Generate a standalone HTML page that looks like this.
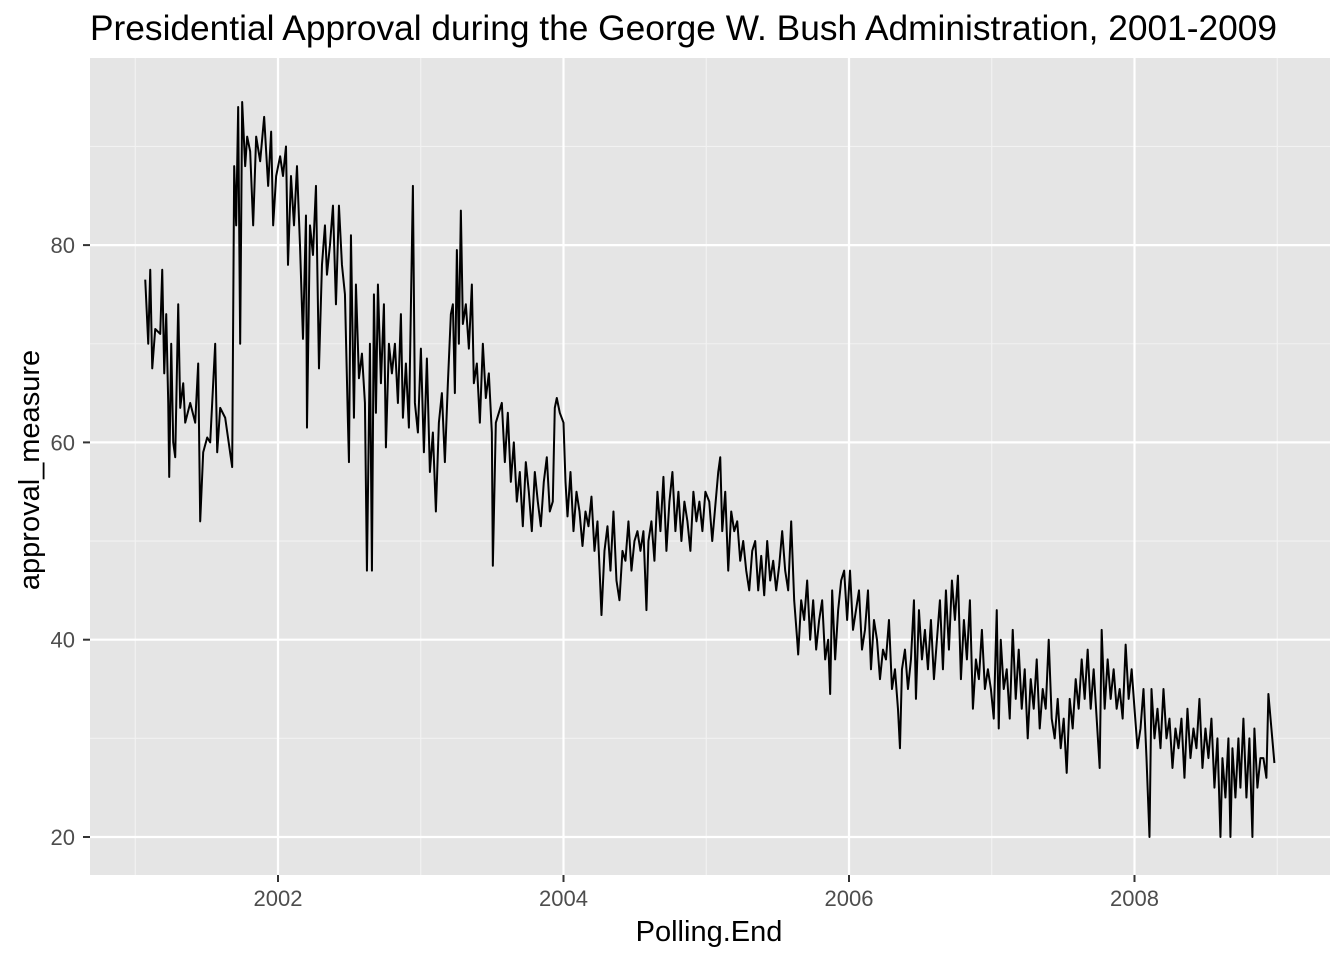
<!DOCTYPE html>
<html><head><meta charset="utf-8"><style>
html,body{margin:0;padding:0;background:#fff;}
svg text{font-family:"Liberation Sans",Arial,sans-serif;}
</style></head><body>
<svg id="chart" width="1344" height="960" xmlns="http://www.w3.org/2000/svg">
<text x="90" y="40" font-size="35" fill="#000" textLength="1187" lengthAdjust="spacingAndGlyphs">Presidential Approval during the George W. Bush Administration, 2001-2009</text>
<rect x="90" y="58" width="1240" height="817" fill="#e5e5e5"/>
<g id="grid"></g>
<g id="series"></g>
<g id="axes"></g>
<text x="709" y="941" font-size="29" text-anchor="middle" fill="#000">Polling.End</text>
<text transform="translate(39,470) rotate(-90)" font-size="29" text-anchor="middle" fill="#000">approval_measure</text>
</svg>
<script>
const dates=[2001.070,2001.091,2001.105,2001.119,2001.140,2001.175,2001.189,2001.203,2001.217,2001.231,2001.238,2001.252,2001.266,2001.280,2001.301,2001.315,2001.336,2001.350,2001.385,2001.420,2001.441,2001.455,2001.476,2001.504,2001.525,2001.546,2001.560,2001.574,2001.595,2001.630,2001.679,2001.693,2001.707,2001.721,2001.735,2001.749,2001.770,2001.784,2001.805,2001.826,2001.847,2001.875,2001.903,2001.931,2001.952,2001.966,2001.987,2002.015,
2002.035,2002.056,2002.070,2002.091,2002.112,2002.133,2002.154,2002.175,2002.196,2002.203,2002.224,2002.245,2002.266,2002.287,2002.308,2002.329,2002.343,2002.364,2002.385,2002.406,2002.427,2002.448,2002.469,2002.490,2002.497,2002.511,2002.532,2002.546,2002.567,2002.588,2002.609,2002.623,2002.644,2002.658,2002.672,2002.686,2002.700,2002.721,2002.742,2002.756,2002.777,2002.798,2002.819,2002.840,2002.861,2002.875,2002.896,2002.917,2002.945,2002.959,2002.980,
2003.001,2003.022,2003.043,2003.064,2003.085,2003.106,2003.127,2003.148,2003.169,2003.190,2003.211,2003.225,2003.239,2003.253,2003.267,2003.281,2003.295,2003.316,2003.337,2003.358,2003.372,2003.393,2003.414,2003.435,2003.456,2003.477,2003.498,2003.505,2003.526,2003.547,2003.568,2003.589,2003.610,2003.631,2003.652,2003.673,2003.694,2003.715,2003.736,2003.757,2003.778,2003.799,2003.820,2003.841,2003.862,2003.883,2003.904,2003.925,2003.939,2003.953,2003.974,
2004.000,2004.014,2004.028,2004.049,2004.070,2004.091,2004.112,2004.133,2004.154,2004.175,2004.196,2004.217,2004.238,2004.259,2004.266,2004.287,2004.308,2004.329,2004.350,2004.371,2004.392,2004.413,2004.434,2004.455,2004.476,2004.497,2004.518,2004.539,2004.560,2004.581,2004.595,2004.616,2004.637,2004.658,2004.679,2004.700,2004.721,2004.742,2004.763,2004.784,2004.805,2004.826,2004.847,2004.868,2004.889,2004.910,2004.931,2004.952,2004.973,2004.994,
2005.021,2005.042,2005.063,2005.084,2005.098,2005.112,2005.133,2005.154,2005.175,2005.196,2005.217,2005.238,2005.259,2005.280,2005.301,2005.322,2005.343,2005.364,2005.385,2005.406,2005.427,2005.448,2005.469,2005.490,2005.511,2005.532,2005.553,2005.574,2005.595,2005.616,2005.637,2005.644,2005.665,2005.686,2005.707,2005.728,2005.749,2005.770,2005.791,2005.812,2005.833,2005.854,2005.868,2005.882,2005.903,2005.924,2005.945,2005.966,2005.987,
2006.007,2006.028,2006.049,2006.070,2006.091,2006.112,2006.133,2006.154,2006.175,2006.196,2006.217,2006.238,2006.259,2006.280,2006.301,2006.322,2006.343,2006.357,2006.371,2006.392,2006.413,2006.434,2006.455,2006.469,2006.490,2006.511,2006.532,2006.553,2006.574,2006.595,2006.616,2006.637,2006.658,2006.679,2006.700,2006.721,2006.742,2006.763,2006.784,2006.805,2006.826,2006.847,2006.868,2006.889,2006.910,2006.931,2006.952,2006.973,2006.994,
2007.014,2007.035,2007.049,2007.063,2007.084,2007.105,2007.126,2007.147,2007.168,2007.189,2007.210,2007.231,2007.252,2007.273,2007.294,2007.315,2007.336,2007.357,2007.378,2007.399,2007.420,2007.441,2007.462,2007.483,2007.504,2007.525,2007.546,2007.567,2007.588,2007.609,2007.630,2007.651,2007.672,2007.693,2007.714,2007.735,2007.756,2007.770,2007.791,2007.812,2007.833,2007.854,2007.875,2007.896,2007.917,2007.938,2007.959,2007.980,
2008.000,2008.021,2008.042,2008.063,2008.084,2008.105,2008.119,2008.140,2008.161,2008.182,2008.203,2008.224,2008.245,2008.266,2008.287,2008.308,2008.329,2008.350,2008.371,2008.392,2008.413,2008.434,2008.455,2008.476,2008.497,2008.518,2008.539,2008.560,2008.581,2008.602,2008.616,2008.637,2008.658,2008.672,2008.686,2008.707,2008.728,2008.742,2008.763,2008.784,2008.805,2008.826,2008.840,2008.861,2008.882,2008.903,2008.924,2008.938,2008.959,2008.980];
const approval=[76.5,70,77.5,67.5,71.5,71,77.5,67,73,64,56.5,70,60,58.5,74,63.5,66,62,64,62,68,52,59,60.5,60,66,70,59,63.5,62.5,57.5,88,82,94,70,94.5,88,91,89.5,82,91,88.5,93,86,91.5,82,87,89,
87,90,78,87,82,88,80,70.5,83,61.5,82,79,86,67.5,78,82,77,80,84,74,84,78,75,62,58,81,62.5,76,66.5,69,64,47,70,47,75,63,76,66,74,59.5,70,67,70,64,73,62.5,68,61.5,86,64,61,
69.5,59,68.5,57,61,53,62,65,58,66,73,74,65,79.5,70,83.5,72,74,69.5,76,66,68,62,70,64.5,67,61,47.5,62,63,64,58,63,56,60,54,57,51.5,58,55,51,57,54,51.5,56,58.5,53,54,63.5,64.5,63,
62,56,52.5,57,51,55,53,49.5,53,51.5,54.5,49,52,45,42.5,49,51.5,47,53,46,44,49,48,52,47,50,51,49,51,43,50,52,48,55,51,56.5,49,54,57,51,55,50,54,52,49,55,52,54,51,55,
54,50,53.5,57,58.5,51,55,47,53,51,52,48,50,47,45,49,50,45,48.5,44.5,50,46,48,45,47.5,51,47,45,52,44,40,38.5,44,42,46,40,44,39,42,44,38,40,34.5,45,38,43,46,47,42,
47,41,43,45,39,41,45,37,42,40,36,39,38,42,35,37,33,29,37,39,35,38,44,34,43,38,41,37,42,36,40,44,37,45,39,46,42,46.5,36,42,38,44,33,38,36,41,35,37,35,
32,43,31,40,35,37,32,41,34,39,33,37,30,36,33,38,31,35,33,40,32,30,34,29,32,26.5,34,31,36,33,38,34,39,33,37,32,27,41,33,38,34,37,33,35,32,39.5,34,37,
33,29,31,35,28,20,35,30,33,29,35,30,32,27,31,29,32,26,33,28,31,29,34,27,31,28,32,25,30,20,28,24,30,20,29,24,30,25,32,24,30,20,31,25,28,28,26,34.5,31,27.5];
const xTickVals=[2002,2004,2006,2008];
const xTickLabels=["2002","2004","2006","2008"];
const xMinorVals=[2001,2003,2005,2007,2009];
const yTickVals=[20,40,60,80];
const yTickLabels=["20","40","60","80"];
const yMinorVals=[30,50,70,90];

const NS="http://www.w3.org/2000/svg";
function xs(y){return 278+(y-2002)*142.75;}
function ys(v){return 837-(v-20)*9.865;}
function mk(tag,attrs,parent){const e=document.createElementNS(NS,tag);for(const k in attrs)e.setAttribute(k,attrs[k]);parent.appendChild(e);return e;}
const grid=document.getElementById('grid'),axes=document.getElementById('axes'),series=document.getElementById('series');
xMinorVals.forEach(v=>{const l=mk('line',{x1:xs(v),x2:xs(v),y1:58,y2:875,stroke:'#f2f2f2','stroke-width':1.1},grid);

});
yMinorVals.forEach(v=>{const l=mk('line',{x1:90,x2:1330,y1:ys(v),y2:ys(v),stroke:'#f2f2f2','stroke-width':1.1},grid);

});
xTickVals.forEach((v,i)=>{const l=mk('line',{x1:xs(v),x2:xs(v),y1:58,y2:875,stroke:'#fff','stroke-width':2.2},grid);


const t=mk('line',{x1:xs(v),x2:xs(v),y1:875,y2:882,stroke:'#333','stroke-width':2},axes);


const tx=mk('text',{x:xs(v),y:906,'font-size':22,fill:'#4d4d4d','text-anchor':'middle'},axes);tx.textContent=xTickLabels[i];

});
yTickVals.forEach((v,i)=>{const l=mk('line',{x1:90,x2:1330,y1:ys(v),y2:ys(v),stroke:'#fff','stroke-width':2.2},grid);


const t=mk('line',{x1:83,x2:90,y1:ys(v),y2:ys(v),stroke:'#333','stroke-width':2},axes);


const tx=mk('text',{x:75,y:ys(v)+8,'font-size':22,fill:'#4d4d4d','text-anchor':'end'},axes);tx.textContent=yTickLabels[i];

});
const n=Math.min(dates.length,approval.length);
let d='';for(let i=0;i<n;i++){d+=(i?'L':'M')+xs(dates[i]).toFixed(2)+','+ys(approval[i]).toFixed(2);}
const p=mk('path',{d:d,fill:'none',stroke:'#000','stroke-width':2,'stroke-linejoin':'round'},series);


</script>
</body></html>
